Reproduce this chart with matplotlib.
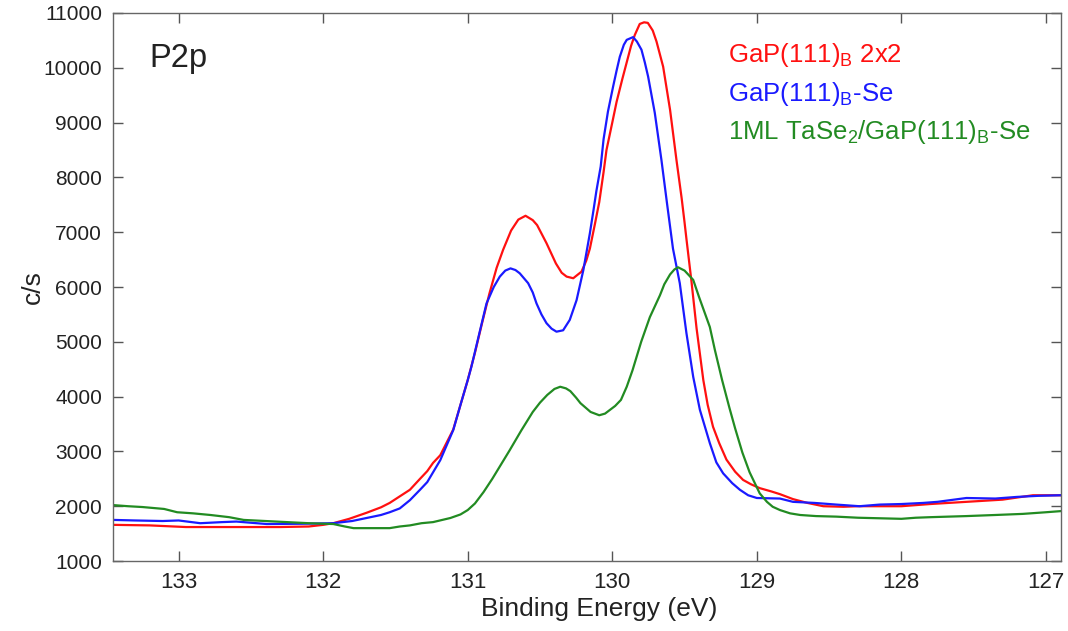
import matplotlib
matplotlib.use("Agg")
import matplotlib.pyplot as plt

# P2p core level spectra
red_x = [133.45, 133.2, 132.95, 132.6, 132.3, 132.1, 132.0, 131.93, 131.82, 131.7,
         131.6, 131.54, 131.47, 131.4, 131.33, 131.28, 131.24, 131.19, 131.1, 131.05,
         131.0, 130.95, 130.9, 130.85, 130.8, 130.755, 130.7, 130.65, 130.6, 130.55,
         130.52, 130.455, 130.39, 130.35, 130.316, 130.27, 130.213, 130.18, 130.155, 130.12,
         130.09, 130.06, 130.04, 130.0, 129.97, 129.93, 129.9, 129.87, 129.844, 129.81,
         129.78, 129.754, 129.72, 129.694, 129.648, 129.6, 129.556, 129.52, 129.5, 129.487,
         129.452, 129.417, 129.37, 129.34, 129.303, 129.26, 129.21, 129.15, 129.095, 129.04,
         128.98, 128.9, 128.84, 128.75, 128.65, 128.54, 128.4, 128.3, 128.15, 128.0,
         127.8, 127.55, 127.3, 127.09, 126.9]
red_y = [1660, 1650, 1620, 1620, 1620, 1630, 1660, 1690, 1770, 1880,
         1980, 2060, 2180, 2300, 2500, 2640, 2790, 2930, 3400, 3850,
         4300, 4800, 5350, 5880, 6350, 6680, 7030, 7230, 7300, 7220,
         7130, 6800, 6430, 6260, 6190, 6160, 6280, 6480, 6700, 7150,
         7550, 8100, 8500, 9000, 9380, 9800, 10100, 10400, 10600, 10800,
         10830, 10820, 10680, 10480, 10020, 9230, 8320, 7620, 7180, 6880,
         6100, 5250, 4300, 3850, 3450, 3150, 2850, 2630, 2480, 2400,
         2330, 2270, 2220, 2130, 2060, 2000, 1990, 2000, 2000, 2000,
         2040, 2080, 2120, 2200, 2200]

blue_x = [133.45, 133.3, 133.11, 133.0, 132.85, 132.7, 132.6, 132.39, 132.15, 131.93,
          131.8, 131.7, 131.6, 131.54, 131.47, 131.4, 131.33, 131.28, 131.19, 131.1,
          131.05, 131.0, 130.974, 130.92, 130.87, 130.82, 130.778, 130.74, 130.704, 130.67,
          130.64, 130.582, 130.55, 130.524, 130.49, 130.455, 130.42, 130.386, 130.34, 130.294,
          130.247, 130.2, 130.155, 130.13, 130.11, 130.08, 130.06, 130.03, 129.994, 129.97,
          129.948, 129.92, 129.9, 129.856, 129.83, 129.798, 129.775, 129.752, 129.706, 129.66,
          129.62, 129.58, 129.533, 129.487, 129.44, 129.394, 129.325, 129.28, 129.233, 129.17,
          129.117, 129.06, 129.0, 128.84, 128.75, 128.6, 128.45, 128.29, 128.15, 128.0,
          127.85, 127.75, 127.55, 127.35, 127.2, 127.05, 126.9]
blue_y = [1750, 1740, 1730, 1740, 1690, 1710, 1720, 1675, 1680, 1690,
          1730, 1785, 1840, 1890, 1960, 2110, 2300, 2440, 2840, 3390,
          3850, 4300, 4550, 5150, 5700, 6000, 6190, 6300, 6340, 6310,
          6250, 6070, 5900, 5700, 5500, 5340, 5240, 5185, 5210, 5400,
          5760, 6310, 6980, 7400, 7750, 8200, 8700, 9200, 9660, 9950,
          10200, 10420, 10510, 10560, 10480, 10330, 10100, 9840, 9180, 8320,
          7500, 6700, 6070, 5160, 4360, 3760, 3150, 2800, 2600, 2420,
          2300, 2200, 2150, 2140, 2080, 2060, 2030, 2000, 2030, 2040,
          2060, 2080, 2150, 2140, 2170, 2190, 2200]

green_x = [133.45, 133.35, 133.25, 133.1, 133.01, 132.9, 132.78, 132.65, 132.55, 132.4,
           132.25, 132.1, 131.93, 131.85, 131.79, 131.65, 131.54, 131.47, 131.4, 131.32,
           131.24, 131.12, 131.05, 131.0, 130.95, 130.89, 130.83, 130.77, 130.71, 130.63,
           130.55, 130.5, 130.45, 130.4, 130.36, 130.32, 130.29, 130.25, 130.22, 130.15,
           130.09, 130.05, 130.02, 129.98, 129.94, 129.9, 129.86, 129.8, 129.74, 129.67,
           129.64, 129.6, 129.57, 129.545, 129.5, 129.44, 129.4, 129.325, 129.29, 129.24,
           129.19, 129.15, 129.1, 129.05, 128.98, 128.93, 128.89, 128.84, 128.77, 128.7,
           128.59, 128.45, 128.3, 128.15, 128.0, 127.9, 127.8, 127.55, 127.35, 127.16,
           127.0, 126.9]
green_y = [2020, 2000, 1985, 1950, 1890, 1870, 1840, 1800, 1750, 1730,
           1710, 1690, 1675, 1630, 1600, 1600, 1600, 1630, 1650, 1690,
           1710, 1785, 1850, 1930, 2050, 2260, 2500, 2760, 3020, 3380,
           3720, 3890, 4030, 4140, 4180, 4150, 4100, 3980, 3880, 3720,
           3660, 3690, 3750, 3830, 3940, 4180, 4480, 5000, 5450, 5850,
           6050, 6230, 6320, 6360, 6300, 6130, 5820, 5270, 4850, 4300,
           3800, 3420, 2980, 2620, 2235, 2080, 1990, 1930, 1870, 1840,
           1820, 1810, 1790, 1780, 1770, 1790, 1800, 1820, 1840, 1860,
           1890, 1910]

labels = ["GaP(111)$_\\mathrm{B}$ 2x2",
          "GaP(111)$_\\mathrm{B}$-Se",
          "1ML TaSe$_\\mathrm{2}$/GaP(111)$_\\mathrm{B}$-Se"]
colors = ["#ff1010", "#1a1aff", "#228b22"]

plt.rcParams["font.family"] = ["Liberation Sans", "DejaVu Sans"]
plt.rcParams["mathtext.fontset"] = "custom"
plt.rcParams["mathtext.rm"] = "Liberation Sans"
plt.rcParams["mathtext.default"] = "regular"

fig = plt.figure(figsize=(10.68, 6.31), dpi=100)
ax = fig.add_axes([0.1058, 0.1109, 0.8876, 0.8685])

ax.plot(red_x, red_y, color=colors[0], lw=1.6)
ax.plot(blue_x, blue_y, color=colors[1], lw=1.6)
ax.plot(green_x, green_y, color=colors[2], lw=1.6)

ax.set_xlim(133.454, 126.896)
ax.set_ylim(1000, 11000)
ax.set_xticks([133, 132, 131, 130, 129, 128, 127])
ax.set_yticks(range(1000, 11001, 1000))
ax.tick_params(direction="in", length=7, width=1, color="#555555",
               top=True, right=True, pad=8, labelcolor="#222222")
ax.tick_params(axis="x", labelsize=16)
ax.tick_params(axis="y", labelsize=15)
for s in ax.spines.values():
    s.set_color("#666666")
    s.set_linewidth(1)

ax.set_xlabel("Binding Energy (eV)", fontsize=19, color="#222222")
ax.set_ylabel("c/s", fontsize=19, color="#222222")
ax.xaxis.set_label_coords(0.513, -0.066)
ax.yaxis.set_label_coords(-0.072, 0.5)

ax.text(0.038, 0.902, "P2p", transform=ax.transAxes, fontsize=23.5, color="#222222")
for i, (lab, c) in enumerate(zip(labels, colors)):
    ax.text(0.649, 0.91 - i * 0.07, lab, transform=ax.transAxes,
            fontsize=18.5, color=c)

plt.savefig("out.png", dpi=100)
